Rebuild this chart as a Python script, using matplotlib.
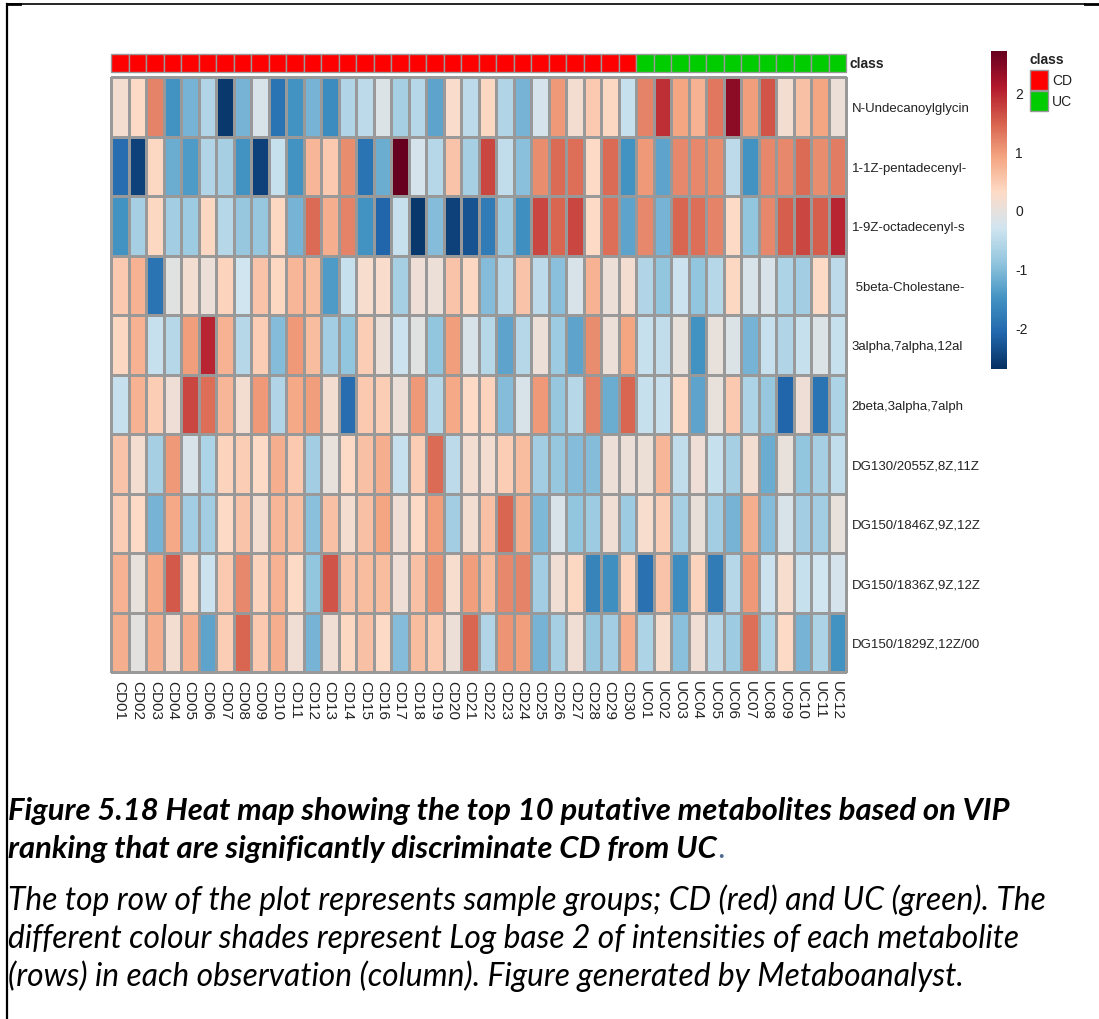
import numpy as np
import matplotlib
matplotlib.use("Agg")
import matplotlib.pyplot as plt
from matplotlib.lines import Line2D
from matplotlib.patches import Rectangle
from matplotlib.colors import LinearSegmentedColormap

plt.rcParams["axes.unicode_minus"] = False

samples = [f"CD{i:02d}" for i in range(1, 31)] + [f"UC{i:02d}" for i in range(1, 13)]
classes = ["CD"] * 30 + ["UC"] * 12
metabolites = ["N-Undecanoylglycin", "1-1Z-pentadecenyl-", "1-9Z-octadecenyl-s",
               " 5beta-Cholestane-", "3alpha,7alpha,12al", "2beta,3alpha,7alph",
               "DG130/2055Z,8Z,11Z", "DG150/1846Z,9Z,12Z", "DG150/1836Z,9Z,12Z",
               "DG150/1829Z,12Z/00"]

row_undecanoyl = [0.15, 0.3, 1.2, -1.5, -1.1, -0.6, -2.6, -1.1, -0.2, -1.9, -1.5, -1.1, -1.6, -0.6,
                  -0.5, -0.15, -0.7, -0.55, -1.3, 0.25, -0.5, 0.35, -0.6, -1.1, -0.25, 1.0, 0.15, 0.5,
                  0.35, -0.4, 1.2, 1.9, 0.9, 0.75, 1.3, 2.4, 0.95, 1.6, 0.15, 0.6, 0.9, 0.05]
row_pentadecenyl = [-2.0, -2.5, 0.35, -1.2, -1.4, -0.6, -0.7, -1.5, -2.5, -0.4, -1.5, 0.7, 0.5, 1.1,
                    -1.9, -1.2, 2.7, -0.25, -0.55, 0.55, -0.7, 1.7, -0.45, -0.95, 1.1, 1.4, 1.35, 0.3,
                    1.4, -1.5, 1.0, -1.3, 1.15, 1.15, 1.1, -0.5, -1.5, 1.15, 1.15, 1.4, 1.1, 1.25]
row_octadecenyl = [-1.5, -0.7, 0.35, -0.75, -0.8, 0.35, -0.55, -0.85, -0.85, 0.35, -1.1, 1.4, 0.8, 1.2,
                   -1.5, -2.1, -0.4, -2.6, -1.0, -2.5, -2.3, -1.8, -0.8, -1.55, 1.7, 1.45, 1.7, 0.3,
                   1.35, -1.3, 1.15, -1.1, 1.45, 1.35, 1.2, 0.3, -0.9, 1.15, 1.5, 1.7, 1.5, 2.0]
row_cholestane = [0.5, 0.75, -1.9, -0.1, 0.15, 0.05, 0.4, -0.3, 0.55, 0.35, 0.7, 0.65, -1.4, -0.4,
                  0.2, 0.25, -0.7, 0.1, 0.05, 0.55, 0.35, -1.0, -0.55, 0.55, -0.5, -0.95, -0.2, 0.75,
                  0.05, 0.15, -0.6, -0.9, -0.35, -0.9, -0.55, 0.35, -0.2, -0.2, -0.65, -0.75, 0.3, -0.5]
row_3alpha = [0.35, 0.75, -0.4, -0.55, 0.95, 2.0, 0.75, -0.55, 0.45, -1.0, 1.0, 0.65, -0.75, -0.9,
              0.45, 0.05, -0.35, -0.1, -0.9, 0.95, -0.2, -0.55, -1.3, -0.55, 0.05, -0.8, -1.3, 1.1,
              0.05, 0.9, -0.4, -0.45, 0.0, -1.5, 0.0, -0.15, -1.1, -0.4, -0.6, -0.4, -0.15, -0.4]
row_2beta = [-0.4, 0.75, 0.45, 0.1, 1.7, 1.35, 0.7, 0.15, 1.0, -0.6, 0.85, 0.95, 0.15, -2.0,
             0.5, 0.45, 0.05, 1.0, -0.55, 0.85, 0.3, 0.4, -1.0, -0.2, 1.0, -0.85, -0.55, 1.2,
             -1.2, 1.45, -0.4, -0.4, 0.3, -1.3, 0.0, 0.5, -0.65, -0.85, -2.1, 0.1, -1.9, -0.65]
row_dg130 = [0.55, 0.15, -0.7, 1.0, -0.2, -0.65, 0.4, 0.45, 0.3, 0.8, 0.5, -0.75, 0.0, 0.3,
             0.6, 0.8, -0.4, 0.45, 1.4, -0.5, 0.15, 0.15, 0.45, 0.65, -0.75, -0.85, -1.0, -1.0,
             0.05, 0.05, 0.08, 0.7, -0.45, 0.1, -0.4, -0.7, 0.15, -1.2, 0.0, -0.9, -0.7, -0.45]
row_dg150_1846 = [0.45, 0.3, -1.1, 0.85, -0.75, -0.75, 0.3, 0.55, 0.15, 0.7, 0.6, -0.95, 0.6, 0.15,
                  0.6, 0.9, 0.12, 0.3, 0.95, -0.75, 0.15, 0.6, 1.45, 0.8, -1.05, -0.2, -0.9, -0.8,
                  0.12, -0.8, 0.2, 0.45, -0.7, 0.03, -0.75, -1.1, 0.8, -1.0, -0.2, -0.75, -0.75, 0.0]
row_dg150_1836 = [0.75, 0.02, 0.85, 1.55, 0.35, -0.35, 0.5, 1.15, 0.4, 0.75, 0.3, -0.9, 1.6, 0.55,
                  0.65, 0.65, 0.1, 0.6, 1.05, 0.2, 0.95, 0.65, 1.15, 1.2, -0.75, 0.12, 0.35, -1.7,
                  -1.55, 0.4, -1.95, 0.55, -1.6, 0.4, -1.8, -0.55, 1.0, -0.35, 0.2, -0.4, -0.3, -0.25]
row_dg150_1829 = [0.8, -0.05, 0.8, 0.15, 0.8, -1.3, 0.45, 1.45, 0.5, 0.8, 0.12, -1.1, 0.12, 0.35,
                  0.6, 0.3, -1.0, 0.65, 0.5, 0.05, 1.45, -0.6, 1.05, 0.95, -1.1, -0.7, 0.12, -0.85,
                  -0.75, 0.8, -0.65, 0.2, -0.95, 0.12, -0.55, -0.8, 1.35, -0.65, 0.3, -1.1, -0.65, -1.5]

values = np.array([row_undecanoyl, row_pentadecenyl, row_octadecenyl, row_cholestane, row_3alpha,
                   row_2beta, row_dg130, row_dg150_1846, row_dg150_1836, row_dg150_1829])
class_colors = {"CD": "#FF0000", "UC": "#00CC00"}
cbar_ticks = [-2, -1, 0, 1, 2]

# reversed RdBu (10 classes) ramp, as used by MetaboAnalyst
rdbu10 = ["#053061", "#2166AC", "#4393C3", "#92C5DE", "#D1E5F0",
          "#FDDBC7", "#F4A582", "#D6604D", "#B2182B", "#67001F"]
cmap = LinearSegmentedColormap.from_list("rdbu10r", rdbu10, N=256)

W, H = 1099, 1020
fig = plt.figure(figsize=(W / 100, H / 100), dpi=100)

def px_axes(x0, y0, x1, y1):
    return fig.add_axes([x0 / W, 1 - y1 / H, (x1 - x0) / W, (y1 - y0) / H])

lab_font = ["Liberation Sans", "DejaVu Sans"]
border = "#999999"
vmin, vmax = -2.7, 2.7

# heatmap
ax = px_axes(111, 78, 846, 673)
nrow, ncol = values.shape
mesh = ax.pcolormesh(np.arange(ncol + 1), np.arange(nrow + 1), values, cmap=cmap,
                     vmin=vmin, vmax=vmax, edgecolors=border, linewidth=1.0)
mesh.set_clip_on(False)
ax.set_xlim(0, ncol)
ax.set_ylim(nrow, 0)
for s in ax.spines.values():
    s.set_visible(False)
ax.set_xticks(np.arange(ncol) + 0.5)
ax.set_xticklabels(samples, rotation=-90, fontsize=11, family=lab_font, color="#222222")
ax.set_yticks(np.arange(nrow) + 0.5)
ax.set_yticklabels(metabolites, fontsize=9.5, family=lab_font, color="#222222")
ax.yaxis.tick_right()
ax.tick_params(axis="both", length=0)
ax.tick_params(axis="x", pad=6)
ax.tick_params(axis="y", pad=4)

# class annotation bar
axc = px_axes(111, 55, 846, 73)
for i, c in enumerate(classes):
    axc.add_patch(Rectangle((i, 0), 1, 1, facecolor=class_colors[c], edgecolor=border,
                            linewidth=1.0, clip_on=False))
axc.set_xlim(0, ncol)
axc.set_ylim(0, 1)
axc.axis("off")
fig.text(850 / W, 1 - 64 / H, "class", fontsize=10, fontweight="bold", family=lab_font,
         va="center", ha="left", color="#222222")

# colorbar
cax = px_axes(991, 52, 1007, 370)
cb = fig.colorbar(mesh, cax=cax, ticks=cbar_ticks)
cb.outline.set_visible(False)
cax.tick_params(length=0, pad=6, labelsize=10)
for t in cax.get_yticklabels():
    t.set_family(lab_font)
    t.set_color("#222222")

# class legend
fig.text(1030 / W, 1 - 60 / H, "class", fontsize=10, fontweight="bold", family=lab_font,
         va="center", ha="left", color="#222222")
for k, (name, col) in enumerate(class_colors.items()):
    y0 = 71 + k * 21
    fig.add_artist(Rectangle((1030 / W, 1 - (y0 + 20) / H), 18 / W, 20 / H,
                             facecolor=col, edgecolor=border, linewidth=1.0,
                             transform=fig.transFigure))
    fig.text(1052 / W, 1 - (y0 + 10) / H, name, fontsize=10, family=lab_font,
             va="center", ha="left", color="#222222")

# frame lines
fig.add_artist(Line2D([7 / W, 1085 / W], [1 - 5 / H, 1 - 5 / H], color="black", lw=1.2,
                      transform=fig.transFigure))
fig.add_artist(Line2D([1085 / W, 1099 / W], [1 - 5 / H, 1 - 5 / H], color="black", lw=2.0,
                      transform=fig.transFigure))
fig.add_artist(Line2D([7 / W, 7 / W], [1 - 5 / H, 0], color="black", lw=1.6,
                      transform=fig.transFigure))
fig.add_artist(Line2D([7 / W, 20 / W], [1 - 5 / H, 1 - 5 / H], color="black", lw=2.0,
                      transform=fig.transFigure))

# caption
cap_font = ["Lato", "DejaVu Sans"]
head = ["Figure 5.18 Heat map showing the top 10 putative metabolites based on VIP",
        "ranking that are significantly discriminate CD from UC"]
para = ["The top row of the plot represents sample groups; CD (red) and UC (green). The",
        "different colour shades represent Log base 2 of intensities of each metabolite",
        "(rows) in each observation (column). Figure generated by Metaboanalyst."]
head_texts = []
for i, line in enumerate(head):
    t = fig.text(8 / W, 1 - (820 + i * 38) / H, line, fontsize=22.3, fontweight="bold",
                 style="italic", family=cap_font, va="baseline", ha="left")
    head_texts.append(t)
for i, line in enumerate(para):
    fig.text(8 / W, 1 - (910 + i * 38) / H, line, fontsize=22.9, style="italic",
             family=cap_font, va="baseline", ha="left")

# bluish full stop after the heading
renderer = fig.canvas.get_renderer()
bb = head_texts[1].get_window_extent(renderer)
fig.text(bb.x1 / W + 1 / W, 1 - 858 / H, ".", fontsize=22.3, style="italic",
         family=cap_font, va="baseline", ha="left", color="#4F6A8F")

fig.savefig("out.png", dpi=100)
